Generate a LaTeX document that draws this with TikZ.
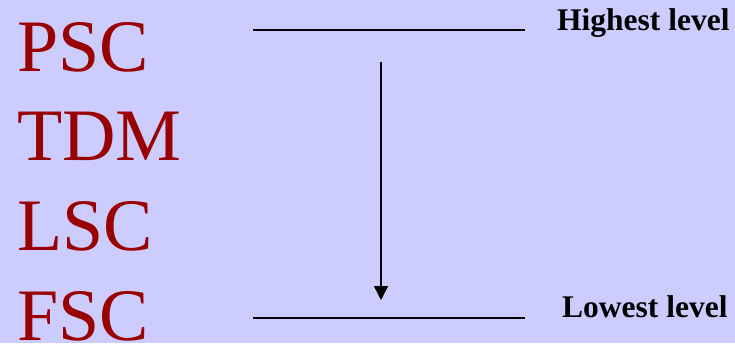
\documentclass[tikz,border=0pt]{standalone}
\usepackage{fontspec}
\setmainfont{Liberation Serif}
\usetikzlibrary{arrows.meta}
\definecolor{slidebg}{HTML}{CCCCFF}
\definecolor{darkred}{HTML}{990000}
\begin{document}
\begin{tikzpicture}[x=1pt, y=-1pt,
        lvl/.style={anchor=base west, inner sep=0pt, text=darkred, font=\fontsize{74}{90}\selectfont},
        lab/.style={anchor=base west, inner sep=0pt, font=\fontsize{31.5}{36}\selectfont\bfseries},
        levelline/.style={line width=1.4pt}
    ]
        \fill[slidebg] (0,0) rectangle (735,343);
        \useasboundingbox (0,0) rectangle (735,343);

        \node[lvl] (psc) at (17,71) {PSC};
        \node[lvl] (tdm) at (17,160) {TDM};
        \node[lvl] (lsc) at (17,250) {LSC};
        \node[lvl] (fsc) at (17,340) {FSC};

        \node[lab] (hi) at (557,30) {Highest level};
        \node[lab] (lo) at (562,317) {Lowest level};

        \coordinate (h1) at (253,30);
        \coordinate (h2) at (525,30);
        \coordinate (l1) at (253,318);
        \coordinate (l2) at (525,318);
        \coordinate (a1) at (381,62);
        \coordinate (a2) at (381,300);

        \draw[levelline] (h1) -- (h2);
        \draw[levelline] (l1) -- (l2);
        \draw[levelline, -{Triangle[length=14pt, width=14pt]}] (a1) -- (a2);% Arrow
    \end{tikzpicture}
\end{document}
